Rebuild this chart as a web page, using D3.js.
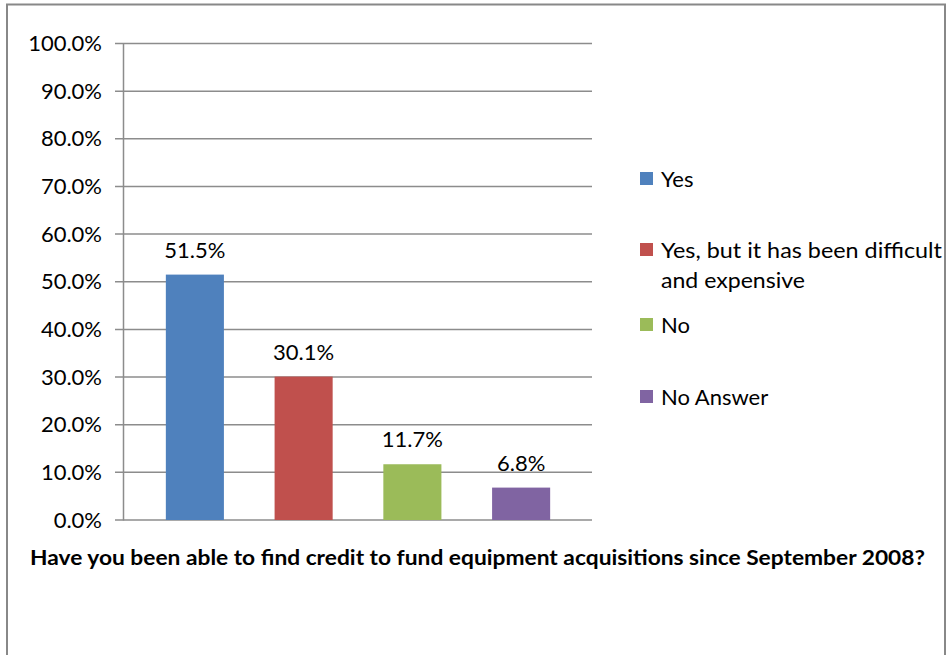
<!DOCTYPE html>
<html><head><meta charset="utf-8">
<script src="https://cdn.jsdelivr.net/npm/d3@7"></script>
<style>body{margin:0;background:#fff}svg{display:block}</style>
</head><body>
<svg id="c" width="947" height="655"></svg>
<script>
const categories = ["Yes", "Yes, but it has been difficult and expensive", "No", "No Answer"];
const values = [51.5, 30.1, 11.7, 6.8];
const colors = ["#4F81BD", "#C0504D", "#9BBB59", "#8064A2"];
const yTicks = [0, 10, 20, 30, 40, 50, 60, 70, 80, 90, 100];
const legendLines = [["Yes"], ["Yes, but it has been difficult", "and expensive"], ["No"], ["No Answer"]];
const title = "Have you been able to find credit to fund equipment acquisitions since September 2008?";

const svg = d3.select("#c");
const font = "Lato, 'Open Sans', sans-serif";

svg.append("rect").attr("x", 7).attr("y", 4.5).attr("width", 938).attr("height", 660)
  .attr("fill", "#fff").attr("stroke", "#888").attr("stroke-width", 2);

const y = d3.scaleLinear().domain([0, 100]).range([520, 43.5]);
const x = d3.scaleBand().domain(categories).range([140.5, 575.5]).paddingInner(0.466).paddingOuter(0.233);

// gridlines
svg.append("g").selectAll("line").data(yTicks).join("line")
  .attr("x1", 115).attr("x2", 592)
  .attr("y1", d => y(d)).attr("y2", d => y(d))
  .attr("stroke", "#8c8c8c").attr("stroke-width", 1.5);

// y axis
const yAxis = d3.axisLeft(y).tickValues(yTicks).tickFormat(d => d.toFixed(1) + "%").tickSize(0).tickPadding(21);
const ga = svg.append("g").attr("transform", "translate(123,0)").call(yAxis);
ga.select(".domain").attr("stroke", "#8c8c8c").attr("stroke-width", 1.5);
ga.selectAll("text").attr("font-family", font).attr("font-size", 22).attr("fill", "#000");

// bars
svg.append("g").selectAll("rect").data(values).join("rect")
  .attr("x", (d, i) => x(categories[i]))
  .attr("width", x.bandwidth())
  .attr("y", d => y(d))
  .attr("height", d => y(0) - y(d))
  .attr("fill", (d, i) => colors[i]);

// value labels
svg.append("g").selectAll("text").data(values).join("text")
  .attr("x", (d, i) => x(categories[i]) + x.bandwidth() / 2)
  .attr("y", d => y(d) - 17)
  .attr("text-anchor", "middle")
  .attr("font-family", font).attr("font-size", 22).attr("fill", "#000")
  .text(d => d.toFixed(1) + "%");

// legend
const legendY = [172, 243, 318, 390];
const lg = svg.append("g");
legendLines.forEach((lines, i) => {
  lg.append("rect").attr("x", 640).attr("y", legendY[i]).attr("width", 13).attr("height", 13).attr("fill", colors[i]);
  lines.forEach((t, j) => {
    const tx = lg.append("text").attr("x", 661).attr("y", legendY[i] + 15 + j * 30)
      .attr("font-family", font).attr("font-size", 22).attr("fill", "#000").text(t);
    if (t.startsWith("Yes, but")) tx.attr("textLength", 281).attr("lengthAdjust", "spacingAndGlyphs");
    if (t === "and expensive") tx.attr("textLength", 144).attr("lengthAdjust", "spacingAndGlyphs");
  });
});

// title
svg.append("text").attr("x", 30).attr("y", 565)
  .attr("font-family", font).attr("font-size", 20).attr("font-weight", "bold").attr("fill", "#000")
  .attr("textLength", 895).attr("lengthAdjust", "spacingAndGlyphs")
  .text(title);
</script>
</body></html>
